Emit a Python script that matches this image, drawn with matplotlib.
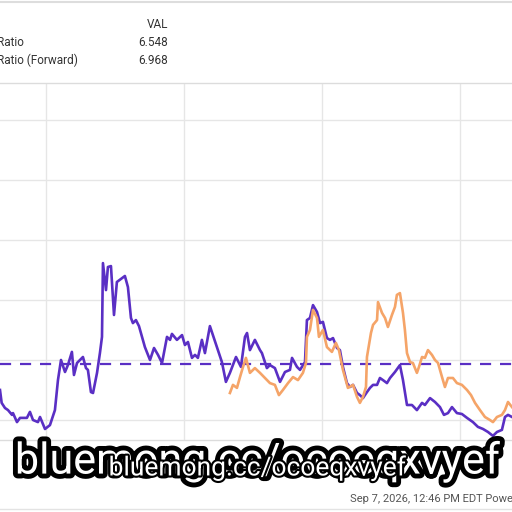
import matplotlib
matplotlib.use("Agg")
import matplotlib.pyplot as plt
import matplotlib.patheffects as pe
from matplotlib.lines import Line2D

# P/E ratio history (x = fractional year)
pe_years = [
    2021.667, 2021.679, 2021.703, 2021.725, 2021.754, 2021.761, 2021.790, 2021.812, 2021.862, 2021.884,
    2021.906, 2021.942, 2021.957, 2021.993, 2022.029, 2022.065, 2022.087, 2022.109, 2022.138, 2022.159,
    2022.188, 2022.203, 2022.225, 2022.268, 2022.290, 2022.304, 2022.326, 2022.341, 2022.370, 2022.391,
    2022.406, 2022.413, 2022.435, 2022.449, 2022.471, 2022.493, 2022.514, 2022.551, 2022.572, 2022.594,
    2022.616, 2022.630, 2022.652, 2022.674, 2022.696, 2022.717, 2022.754, 2022.783, 2022.812, 2022.841,
    2022.877, 2022.899, 2022.913, 2022.949, 2022.986, 2023.007, 2023.029, 2023.058, 2023.080, 2023.101,
    2023.130, 2023.152, 2023.188, 2023.239, 2023.275, 2023.304, 2023.333, 2023.377, 2023.413, 2023.442,
    2023.457, 2023.478, 2023.514, 2023.551, 2023.565, 2023.601, 2023.623, 2023.659, 2023.696, 2023.732,
    2023.768, 2023.783, 2023.819, 2023.841, 2023.877, 2023.891, 2023.913, 2023.935, 2023.964, 2023.986,
    2024.007, 2024.036, 2024.058, 2024.080, 2024.109, 2024.130, 2024.152, 2024.181, 2024.203, 2024.225,
    2024.254, 2024.275, 2024.297, 2024.326, 2024.348, 2024.370, 2024.399, 2024.420, 2024.442, 2024.471,
    2024.493, 2024.529, 2024.565, 2024.587, 2024.616, 2024.652, 2024.688, 2024.725, 2024.746, 2024.783,
    2024.819, 2024.855, 2024.884, 2024.913, 2024.942, 2024.978, 2025.014, 2025.051, 2025.094, 2025.130,
    2025.167, 2025.203, 2025.239, 2025.268, 2025.304, 2025.326, 2025.348, 2025.377,
]
pe_vals = [
    7.00, 6.57, 6.40, 6.33, 6.17, 6.23, 5.93, 6.07, 6.07, 6.27,
    6.00, 5.93, 6.10, 5.70, 5.83, 6.33, 7.33, 8.00, 7.60, 7.83,
    8.27, 7.50, 7.90, 8.10, 7.73, 7.67, 6.93, 6.90, 7.57, 8.23,
    8.77, 11.23, 10.33, 11.10, 11.13, 9.50, 10.60, 10.73, 10.80, 10.43,
    9.40, 9.23, 9.33, 9.13, 8.77, 8.43, 8.00, 8.40, 8.17, 7.90,
    8.77, 8.67, 8.87, 8.67, 8.83, 8.50, 8.60, 8.07, 8.17, 8.07,
    8.67, 8.23, 9.13, 8.43, 7.93, 7.27, 7.57, 8.10, 7.77, 8.77,
    8.90, 8.33, 8.67, 8.33, 8.23, 7.73, 7.83, 7.73, 7.27, 7.60,
    7.67, 8.07, 7.77, 7.67, 7.93, 9.33, 9.40, 9.83, 9.60, 9.23,
    9.27, 8.73, 8.67, 8.73, 8.40, 8.33, 7.77, 7.23, 7.10, 7.17,
    6.90, 6.83, 6.73, 6.93, 7.07, 7.17, 7.17, 7.40, 7.33, 7.23,
    7.40, 7.60, 7.83, 7.33, 6.50, 6.50, 6.33, 6.57, 6.50, 6.73,
    6.60, 6.43, 6.17, 6.23, 6.43, 6.23, 6.20, 6.07, 5.93, 5.77,
    5.70, 5.60, 5.47, 5.60, 5.67, 6.10, 6.17, 6.10,
]

# forward P/E ratio
fwd_years = [
    2023.333, 2023.355, 2023.384, 2023.406, 2023.428, 2023.449, 2023.478, 2023.514, 2023.551, 2023.587,
    2023.623, 2023.659, 2023.688, 2023.717, 2023.754, 2023.790, 2023.826, 2023.862, 2023.884, 2023.891,
    2023.913, 2023.935, 2023.964, 2023.978, 2024.007, 2024.036, 2024.072, 2024.101, 2024.123, 2024.152,
    2024.188, 2024.225, 2024.254, 2024.275, 2024.297, 2024.319, 2024.326, 2024.355, 2024.370, 2024.399,
    2024.406, 2024.435, 2024.457, 2024.478, 2024.507, 2024.529, 2024.543, 2024.565, 2024.587, 2024.601,
    2024.616, 2024.638, 2024.659, 2024.688, 2024.703, 2024.725, 2024.746, 2024.768, 2024.797, 2024.819,
    2024.841, 2024.870, 2024.891, 2024.913, 2024.949, 2024.978, 2025.014, 2025.051, 2025.080, 2025.109,
    2025.145, 2025.181, 2025.217, 2025.239, 2025.268, 2025.304, 2025.326, 2025.348, 2025.377,
]
fwd_vals = [
    6.90, 7.17, 7.07, 7.43, 7.77, 8.07, 7.57, 7.73, 7.57, 7.40,
    7.23, 7.17, 6.83, 7.00, 7.23, 7.43, 7.33, 7.57, 7.90, 8.77,
    9.00, 9.67, 9.40, 8.77, 9.00, 8.43, 8.27, 8.57, 8.33, 7.67,
    7.07, 7.17, 6.77, 6.57, 6.77, 7.10, 8.10, 8.90, 9.17, 9.33,
    9.93, 9.57, 9.40, 9.10, 9.50, 9.77, 10.17, 10.23, 9.57, 9.00,
    8.23, 7.93, 7.90, 7.57, 7.77, 8.10, 8.07, 8.33, 8.17, 8.00,
    7.90, 7.43, 7.10, 7.40, 7.40, 7.23, 7.17, 7.00, 6.83, 6.57,
    6.33, 6.10, 6.00, 5.93, 6.10, 6.17, 6.33, 6.60, 6.43,
]

pe_average = 7.87
y_ticks = [6, 8, 10, 12, 14, 16]
x_ticks = [2022, 2023, 2024, 2025]

labels = ["Ratio", "Ratio (Forward)"]
values = ["6.548", "6.968"]

purple = "#5a2fc4"
orange = "#f5a468"
grid_c = "#e6e6e6"

fig = plt.figure(figsize=(5.12, 5.12), dpi=100)
ax = fig.add_axes([0.0, 1 - 440 / 512, 1.0, (440 - 83) / 512])

ax.plot(pe_years, pe_vals, color=purple, lw=1.9, zorder=3)
ax.plot(fwd_years, fwd_vals, color=orange, lw=1.9, zorder=4)
ax.axhline(pe_average, color=purple, lw=1.6, ls=(0, (5, 4)), zorder=2)

ax.set_xlim(2021.667, 2025.377)
ax.set_ylim(5.333, 17.233)
ax.set_yticks(y_ticks)
ax.set_xticks(x_ticks)
ax.grid(True, color=grid_c, lw=1.0)
ax.tick_params(length=0, labelbottom=False, labelleft=False)
for side in ["left", "right"]:
    ax.spines[side].set_visible(False)
for side in ["top", "bottom"]:
    ax.spines[side].set_color("#dcdcdc")
    ax.spines[side].set_linewidth(1.0)

# header table
fig.text(168 / 512, 1 - 25 / 512, "VAL", ha="right", va="center", fontsize=8.5,
         color="#333333", family="Roboto")
for i, (lab, val) in enumerate(zip(labels, values)):
    yy = 1 - (43 + 17 * i) / 512
    fig.text(-3 / 512, yy, lab, ha="left", va="center", fontsize=8.5, color="#333333", family="Roboto")
    fig.text(168 / 512, yy, val, ha="right", va="center", fontsize=8.5, color="#333333", family="Roboto")

fig.add_artist(Line2D([0, 1], [1 - 1.5 / 512, 1 - 1.5 / 512], color="#dddddd", lw=1.5))
fig.add_artist(Line2D([0, 1], [1 - 509 / 512, 1 - 509 / 512], color="#e3e3e3", lw=1.0))

fig.text(350 / 512, 1 - 499 / 512, "Sep 7, 2026, 12:46 PM EDT Powered by YCharts", ha="left",
         va="center", fontsize=8, color="#555555", family="Roboto")

# watermark overlay
big = fig.text(257 / 512, 1 - 462 / 512, "bluemong.cc/ocoeqxvyef", ha="center", va="center",
               fontsize=31, color="white", family="Roboto", zorder=10)
big.set_path_effects([pe.withStroke(linewidth=7, foreground="black")])
small = fig.text(257 / 512, 1 - 468 / 512, "bluemong.cc/ocoeqxvyef", ha="center", va="center",
                 fontsize=19, color="white", family="Roboto", zorder=11)
small.set_path_effects([pe.withStroke(linewidth=3, foreground="black")])

fig.savefig("out.png", dpi=100)
